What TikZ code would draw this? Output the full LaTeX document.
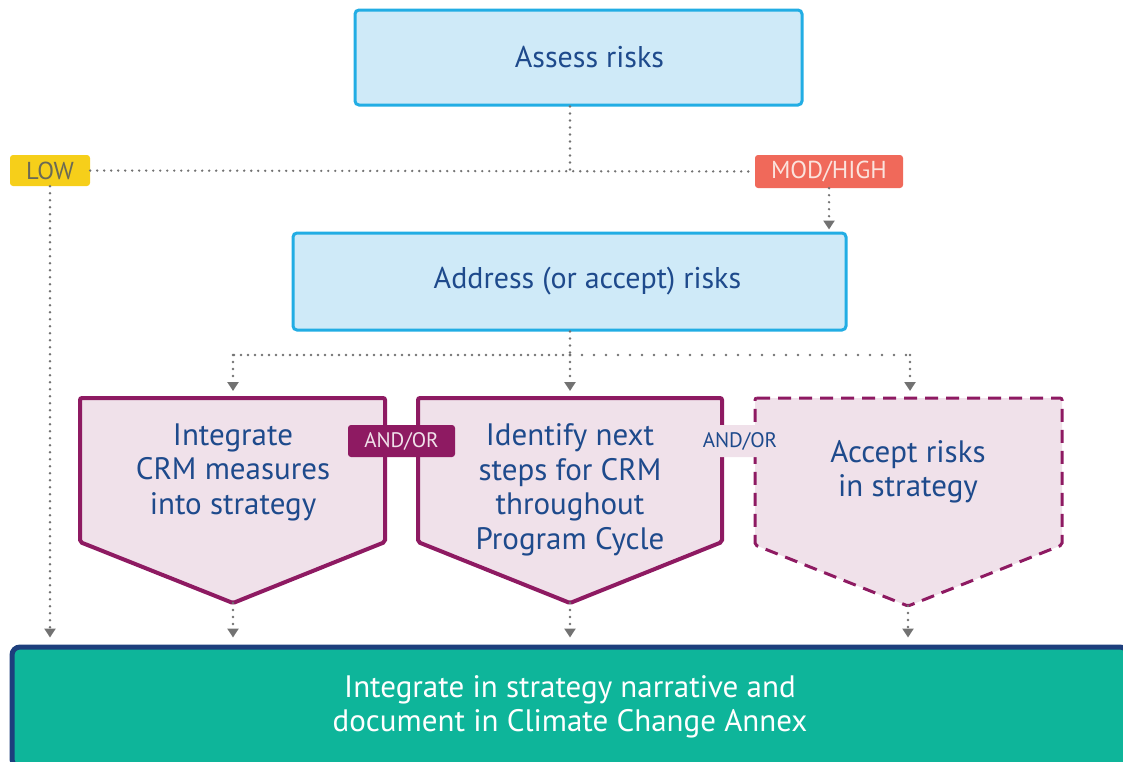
\documentclass[tikz,border=0pt]{standalone}
\usepackage{fontspec}
\setmainfont{PT Sans}
\usetikzlibrary{positioning,arrows.meta}

\definecolor{boxfill}{HTML}{CFEAF8}
\definecolor{boxline}{HTML}{22ADE4}
\definecolor{textblue}{HTML}{1E4A8C}
\definecolor{pinkfill}{HTML}{F0E1EA}
\definecolor{plum}{HTML}{8E1A62}
\definecolor{lowyellow}{HTML}{F6CF1A}
\definecolor{lowtext}{HTML}{6B6A55}
\definecolor{modred}{HTML}{F0695A}
\definecolor{modtext}{HTML}{FBE3DD}
\definecolor{tealfill}{HTML}{0EB59A}
\definecolor{navy}{HTML}{1D3F7D}
\definecolor{linegray}{HTML}{727272}

\begin{document}
\begin{tikzpicture}[x=1pt,y=-1pt,
    bluebox/.style={draw=boxline,fill=boxfill,line width=3pt,rounded corners=4pt,
      text=textblue,font=\fontsize{30}{34}\selectfont},
    tag/.style={rounded corners=3pt,inner sep=0pt,font=\fontsize{24.5}{28}\selectfont},
    andor/.style={tag,font=\fontsize{21}{24}\selectfont,minimum height=32pt},
    penta/.style={fill=pinkfill,draw=plum,line width=4pt,rounded corners=2pt},
    pentatext/.style={text=textblue,align=center,font=\fontsize{31}{34.5}\selectfont},
    dots/.style={draw=linegray,line width=2.6pt,line cap=round,dash pattern=on 0pt off 7pt},
    sparse/.style={draw=linegray,line width=2.6pt,line cap=round,dash pattern=on 0pt off 12pt},
    tip/.style={-{Triangle[width=11pt,length=9pt]}}
  ]
  \useasboundingbox (0,0) rectangle (1123,761);
  \clip (0,0) rectangle (1123,761);

  % top boxes
  \node[bluebox,minimum width=447pt,minimum height=95pt] (assess) at (578.5,57.5) {\hspace*{22pt}Assess risks};
  \node[tag,fill=lowyellow,text=lowtext,minimum width=80pt,minimum height=31pt] (low) at (50,170.5) {LOW};
  \node[tag,fill=modred,text=modtext,minimum width=148pt,minimum height=33pt] (modhigh) at (829,171.5) {MOD/HIGH};
  \node[bluebox,minimum width=553pt,minimum height=97pt] (address) at (569.5,281.5) {\hspace*{36pt}Address (or accept) risks};

  % bottom box
  \node[draw=navy,fill=tealfill,line width=5pt,rounded corners=8pt,text=white,align=center,
    font=\fontsize{31}{34}\selectfont,minimum width=1116pt,minimum height=120pt] (final) at (570,707)
    {Integrate in strategy narrative and\\document in Climate Change Annex};

  \coordinate (split1) at (570,170);
  \coordinate (split2) at (570,355);
  \coordinate (left2) at (233,355);
  \coordinate (right2) at (910,355);

  % pentagons
  \draw[penta] (80,398) -- (385,398) -- (385,542) -- (233,603) coordinate (tip1) -- (80,542) -- cycle;
  \draw[penta] (418,398) -- (722,398) -- (722,542) -- (570,603) coordinate (tip2) -- (418,542) -- cycle;
  \draw[penta,dash pattern=on 13pt off 8pt,line width=3pt] (755,398) -- (1062,398) -- (1062,545)
    -- (908,606) coordinate (tip3) -- (755,545) -- cycle;
  \coordinate (top1) at (233,398);
  \coordinate (top2) at (570,398);
  \coordinate (top3) at (910,398);

  \node[pentatext] (integrate) at (233,472) {Integrate\\CRM measures\\into strategy};
  \node[pentatext] (identify) at (570,490) {Identify next\\steps for CRM\\throughout\\Program Cycle};
  \node[pentatext] (accept) at (908,472) {Accept risks\\in strategy};

  \node[andor,fill=plum,text=pinkfill,minimum width=107pt] (andor1) at (401.5,441) {AND/OR};
  \node[andor,fill=pinkfill,text=textblue,minimum width=80pt] (andor2) at (740,441) {AND/OR};

  %assess>split
  \draw[dots] (assess.south -| split1) -- (split1);
  \draw[dots] (low.east) -- (modhigh.west);
  \draw[dots,tip,shorten >=2pt] (modhigh.south) -- (address.north -| modhigh);
  \draw[dots,tip,shorten >=7pt] (low.south) -- (final.north -| low);

  %address>pentagons
  \draw[dots] (address.south -| split2) -- (split2);
  \draw[dots] (split2) -- (left2);
  \draw[sparse] (split2) -- (right2);
  \draw[dots,tip,shorten >=7pt] (left2) -- (top1);
  \draw[dots,tip,shorten >=7pt] (split2) -- (top2);
  \draw[dots,tip,shorten >=7pt] (right2) -- (top3);

  %pentagons>final
  \draw[dots,tip,shorten >=7pt] (tip1) -- (final.north -| tip1);
  \draw[dots,tip,shorten >=7pt] (tip2) -- (final.north -| tip2);
  \draw[dots,tip,shorten >=7pt] (tip3) -- (final.north -| tip3);
\end{tikzpicture}
\end{document}
